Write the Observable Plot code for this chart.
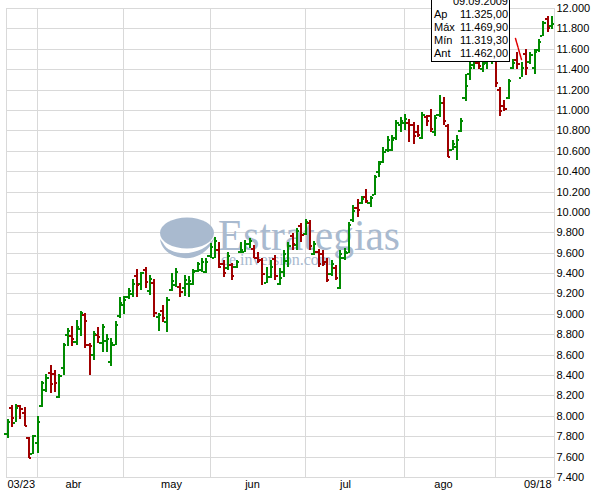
<!DOCTYPE html>
<html><head><meta charset="utf-8">
<script src="https://cdn.jsdelivr.net/npm/d3@7"></script>
<script src="https://cdn.jsdelivr.net/npm/@observablehq/plot@0.6"></script>
<style>
html,body{margin:0;padding:0;background:#fff;overflow:hidden}
#wrap{position:relative;width:594px;height:495px}
#wrap svg{display:block}
#tip{position:absolute;left:431px;top:-10px;width:74px;border:1px solid #000;background:#fff;font:11px "Liberation Sans",Arial,sans-serif;color:#000;padding:4px 1px 1px 2px;line-height:13px}
#tip .row{display:flex;justify-content:space-between}
#tip .date{text-align:right}
</style></head><body><div id="wrap"></div>
<script>
// OHLC daily bars, 03/23 .. 09/18 (index = trading day)
const opens = [7832,8090,7944,8105,8040,7788,7635,7748,8108,8260,
8434,8420,8194,8480,8800,8790,8730,8860,9000,8700,
8610,8800,8720,8740,8540,8700,8990,9100,9180,9200,
9380,9300,9440,9230,9310,8980,9040,8930,9240,9290,
9270,9260,9300,9300,9430,9440,9420,9580,9560,9640,
9500,9460,9490,9470,9615,9620,9700,9650,9560,9540,
9310,9370,9550,9300,9420,9530,9770,9690,9870,9790,
9900,9600,9620,9600,9520,9400,9460,9260,9560,9610,
9930,10050,10100,10160,10100,10180,10400,10500,10620,10620,
10730,10860,10880,10880,10860,10790,10730,10940,10950,10790,
10960,11080,10850,10620,10650,10800,11130,11360,11450,11470,
11410,11470,11500,11560,11210,11050,11130,11420,11500,11325,
11560,11480,11420,11600,11740,11900,11830];
const highs = [7968,8108,8115,8108,8085,7788,7814,8000,8343,8412,
8500,8451,8412,8713,8860,8878,8941,9030,9010,8719,
8833,8875,8900,8800,8765,8934,9170,9180,9256,9340,
9438,9415,9458,9380,9343,9006,9088,9164,9400,9447,
9300,9380,9370,9438,9512,9550,9550,9696,9757,9709,
9529,9610,9502,9529,9707,9725,9742,9676,9610,9547,
9463,9530,9578,9447,9627,9707,9790,9840,9889,9928,
9920,9718,9637,9627,9546,9529,9480,9627,9644,9904,
10067,10125,10156,10222,10156,10362,10502,10633,10744,10754,
10900,10927,10957,10908,10884,10852,10982,10950,11006,10950,
11146,11130,10860,10705,10754,10917,11354,11470,11520,11520,
11535,11650,11600,11600,11224,11100,11305,11500,11567,11470,
11600,11567,11600,11697,11877,11920,11920];
const lows = [7783,7895,7935,7968,7905,7586,7628,7635,8091,8238,
8223,8238,8174,8402,8680,8680,8696,8780,8663,8402,
8548,8713,8630,8630,8493,8690,8960,9000,9147,9170,
9170,9235,9252,9185,8973,8836,8924,8820,9227,9262,
9170,9175,9170,9284,9414,9414,9400,9549,9545,9448,
9365,9430,9333,9448,9600,9610,9645,9546,9497,9285,
9300,9350,9333,9285,9365,9463,9627,9627,9708,9774,
9627,9578,9463,9470,9316,9372,9333,9242,9529,9595,
9900,9953,10077,10090,10045,10166,10340,10483,10590,10600,
10705,10786,10803,10688,10666,10731,10712,10845,10786,10744,
10927,10852,10535,10607,10509,10786,11083,11290,11405,11405,
11370,11405,11455,11224,10940,10990,11110,11405,11405,11319,
11338,11452,11354,11567,11730,11763,11795];
const closes = [7952,7990,8085,8075,7912,7595,7811,7954,8336,8380,
8320,8330,8400,8700,8840,8760,8880,9020,8935,8690,
8810,8780,8880,8760,8720,8900,9120,9150,9230,9300,
9290,9410,9320,9350,9020,9000,8970,9150,9330,9420,
9220,9340,9330,9420,9500,9520,9520,9670,9720,9470,
9410,9580,9380,9515,9640,9700,9720,9560,9530,9400,
9370,9470,9380,9360,9600,9680,9700,9820,9780,9910,
9680,9700,9500,9500,9340,9500,9360,9600,9620,9880,
10020,10030,10140,10120,10150,10350,10480,10600,10720,10720,
10880,10900,10920,10860,10750,10760,10960,10900,10820,10930,
11080,10900,10550,10680,10720,10900,11240,11420,11500,11440,
11460,11500,11580,11270,11000,11020,11290,11470,11462,11420,
11420,11550,11580,11680,11860,11810,11850];

const monthStartIdx = [7, 27, 47, 69, 92, 113];
const xLabels = ["03/23", "abr", "may", "jun", "jul", "ago", "09/18"];
const xLabelPos = [0, 15.3, 38, 56.7, 78.3, 101, 126];
const yTicks = d3.range(7400, 12001, 200);
const cursorX = [117.7, 119.0];
const cursorY = [11703, 11497];
const tipDate = "09.09.2009";
const tipLabels = ["Ap", "Máx", "Mín", "Ant"];
const tipValues = ["11.325,00", "11.469,90", "11.319,30", "11.462,00"];

const GREEN = "#008a00", RED = "#a00000", GRID = "#d9d9d9", WM = "#a9bacf";
const data = opens.map((o, i) => ({i, open: o, high: highs[i], low: lows[i], close: closes[i],
  color: closes[i] >= o ? GREEN : RED}));
const fmt = d => d3.format(",")(d).replace(/,/g, ".");
const labs = xLabels.map((t, k) => ({t, x: xLabelPos[k], k}));
const cursor = cursorX.map((x, k) => ({x, y: cursorY[k]}));

function watermark() {
  const g = d3.create("svg:g").attr("fill", WM).attr("pointer-events", "none");
  g.append("ellipse").attr("cx", 187).attr("cy", 233).attr("rx", 27).attr("ry", 15.5);
  g.append("path").attr("d", "M160,239 C163,262 205,268 215,236 C205,257 170,258 163,243 Z");
  g.append("text").attr("x", 218).attr("y", 250).attr("text-anchor", "start")
    .attr("font-family", "'Liberation Serif','DejaVu Serif',serif").attr("font-size", 45)
    .attr("textLength", 182).attr("lengthAdjust", "spacingAndGlyphs").text("Estrategias");
  g.append("text").attr("x", 221).attr("y", 265).attr("text-anchor", "start")
    .attr("font-family", "'Liberation Serif','DejaVu Serif',serif").attr("font-size", 16)
    .text("de inversion.com");
  return g.node();
}

const bar = {stroke: "color", strokeWidth: 2};
const chart = Plot.plot({
  width: 594, height: 495,
  marginLeft: 6, marginRight: 40, marginTop: 8, marginBottom: 18,
  x: {domain: [-0.116, 126.69], round: true, axis: null},
  y: {domain: [7400, 12000], round: true, axis: null},
  color: {type: "identity"},
  style: {fontFamily: "'Liberation Sans', Arial, sans-serif", fontSize: "11px", background: "#fff", color: "#000"},
  marks: [
    Plot.ruleY(yTicks, {stroke: GRID}),
    Plot.ruleX(monthStartIdx, {stroke: GRID}),
    Plot.frame({stroke: GRID}),
    watermark,
    Plot.ruleX(data, {x: "i", y1: "low", y2: "high", dx: 0.5, ...bar}),
    Plot.ruleY(data, {y: "open", x1: d => d.i - 0.5, x2: "i", dy: 0.5, ...bar}),
    Plot.ruleY(data, {y: "close", x1: "i", x2: d => d.i + 0.5, dx: 1, dy: 0.5, ...bar}),
    Plot.line(cursor, {x: "x", y: "y", stroke: "#e00000", strokeWidth: 1.5, strokeDasharray: "4,1"}),
    Plot.axisY({ticks: yTicks, anchor: "right", tickSize: 0, tickPadding: 2, tickFormat: fmt, label: null, fill: "#000", fontSize: 11}),
    Plot.text(labs.filter(d => d.k === 0), {x: "x", text: "t", frameAnchor: "bottom", dy: 10, textAnchor: "start", fill: "#000", fontSize: 11}),
    Plot.text(labs.filter(d => d.k > 0 && d.k < labs.length - 1), {x: "x", text: "t", frameAnchor: "bottom", dy: 10, textAnchor: "middle", fill: "#000", fontSize: 11}),
    Plot.text(labs.filter(d => d.k === labs.length - 1), {x: "x", text: "t", frameAnchor: "bottom", dy: 10, textAnchor: "end", fill: "#000", fontSize: 11})
  ]
});
const wrap = document.getElementById("wrap");
wrap.appendChild(chart);

const tip = document.createElement("div");
tip.id = "tip";
tip.innerHTML = `<div class="date">${tipDate}</div>` +
  tipLabels.map((l, k) => `<div class="row"><span>${l}</span><span>${tipValues[k]}</span></div>`).join("");
wrap.appendChild(tip);
</script></body></html>
